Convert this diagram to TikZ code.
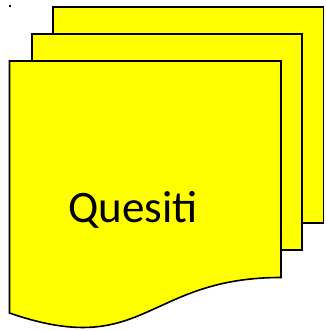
\documentclass[tikz,border=0pt]{standalone}
\usepackage{fontspec}
\setmainfont{Carlito}
\definecolor{docyellow}{HTML}{FFFF00}
\tikzset{sheet/.style={draw=black, fill=docyellow, line width=1.6pt, line join=miter}}
\begin{document}
\begin{tikzpicture}[x=1pt,y=-1pt]
\useasboundingbox (0,0) rectangle (325,331);
% back sheet
\draw[sheet] (53,7) rectangle (323.5,223);
% middle sheet
\draw[sheet] (31.7,34) rectangle (302,250);
% front sheet (document shape)
\draw[sheet] (9.5,61) -- (281,61) -- (281,277.5)
  .. controls (145.25,277.5) and (145.25,360) .. (9.5,313) -- cycle;
\node[anchor=base west, font=\fontsize{45}{54}\selectfont, inner sep=0pt] (label) at (68,222) {Quesiti};
\fill[black] (9.3,5.3) rectangle (11,7);
\end{tikzpicture}
\end{document}
